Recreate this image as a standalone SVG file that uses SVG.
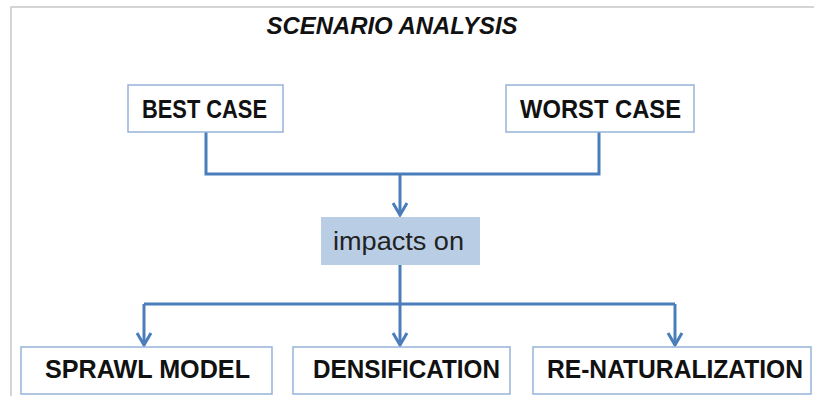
<svg xmlns="http://www.w3.org/2000/svg" width="814" height="396" viewBox="0 0 814 396">
<style>
.box{fill:#ffffff;stroke:#95b3d7;stroke-width:1.5}
.lbl{font-family:"Liberation Sans",Arial,sans-serif;font-weight:bold;font-size:25px;fill:#111;text-anchor:middle}
.conn{fill:none;stroke:#4a7ebb;stroke-width:3}
</style>
<defs>
<marker id="arr" markerUnits="userSpaceOnUse" viewBox="-2 -9 16 18" refX="12" refY="0" markerWidth="16" markerHeight="18" orient="auto">
<path d="M0,-7 L12,0 L0,7" fill="none" stroke="#4a7ebb" stroke-width="3"/>
</marker>
</defs>
<rect x="0" y="0" width="814" height="396" fill="#ffffff"/>
<path d="M11,396 V7 H814" fill="none" stroke="#c8c8c8" stroke-width="1.5"/>
<text x="392" y="34" font-family="'Liberation Sans',Arial,sans-serif" font-weight="bold" font-style="italic" font-size="24" fill="#111" text-anchor="middle" textLength="251" lengthAdjust="spacingAndGlyphs">SCENARIO ANALYSIS</text>
<g id="connectors">
<path class="conn" d="M206,132 V174 H599 V132"/>
<path class="conn" d="M400,174 V215" marker-end="url(#arr)"/>
<path class="conn" d="M400,265 V304"/>
<path class="conn" d="M144,304 H675"/>
<path class="conn" d="M144,304 V345" marker-end="url(#arr)"/>
<path class="conn" d="M400,304 V345" marker-end="url(#arr)"/>
<path class="conn" d="M675,304 V345" marker-end="url(#arr)"/>
</g>
<g id="best-case">
<rect class="box" x="128" y="85" width="155" height="47"/>
<text class="lbl" x="204.5" y="118" textLength="125" lengthAdjust="spacingAndGlyphs">BEST CASE</text>
</g>
<g id="worst-case">
<rect class="box" x="506" y="85" width="188" height="47"/>
<text class="lbl" x="600.5" y="118" textLength="161" lengthAdjust="spacingAndGlyphs">WORST CASE</text>
</g>
<g id="impacts-on">
<rect x="321" y="217" width="159" height="48" fill="#b9cde5"/>
<text x="398.5" y="250" font-family="'Liberation Sans',Arial,sans-serif" font-size="25" fill="#222" text-anchor="middle" textLength="131" lengthAdjust="spacingAndGlyphs">impacts on</text>
</g>
<g id="sprawl-model">
<rect class="box" x="21" y="347" width="251" height="47"/>
<text class="lbl" x="147.5" y="378" textLength="205" lengthAdjust="spacingAndGlyphs">SPRAWL MODEL</text>
</g>
<g id="densification">
<rect class="box" x="293" y="347" width="217" height="47"/>
<text class="lbl" x="406.5" y="378" textLength="187" lengthAdjust="spacingAndGlyphs">DENSIFICATION</text>
</g>
<g id="re-naturalization">
<rect class="box" x="533" y="347" width="278" height="47"/>
<text class="lbl" x="675" y="378" textLength="256" lengthAdjust="spacingAndGlyphs">RE-NATURALIZATION</text>
</g>
</svg>
